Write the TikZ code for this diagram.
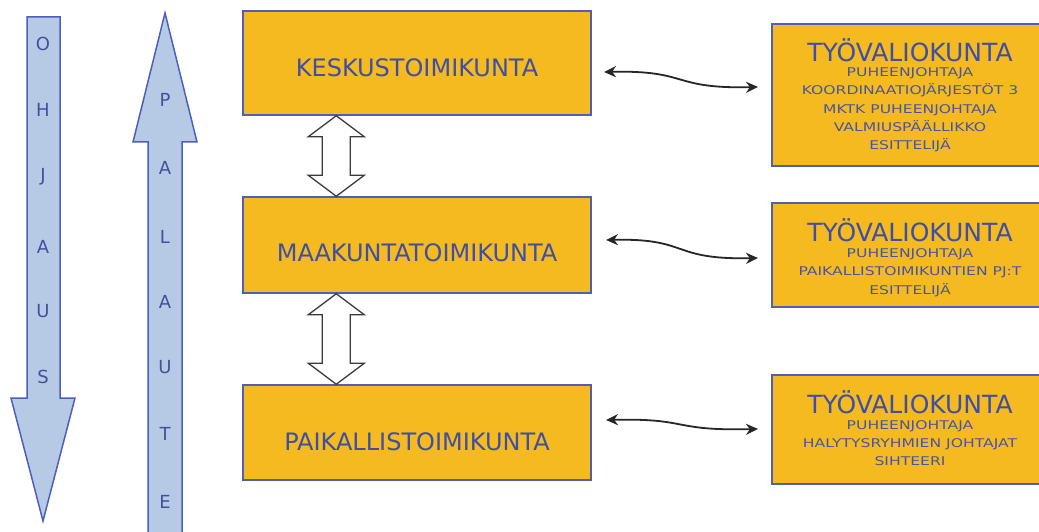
\documentclass[tikz,border=0pt]{standalone}
\usepackage{fontspec}
\setmainfont{DejaVu Sans}
\newfontfamily\widef[FakeStretch=1.3]{DejaVu Sans}
\usetikzlibrary{arrows.meta,calc}
\definecolor{boxfill}{HTML}{F5BA1F}
\definecolor{boxline}{HTML}{4E5FB8}
\definecolor{txtblue}{HTML}{3F4FA5}
\definecolor{arrfill}{HTML}{B6CAE6}
\definecolor{hollowline}{HTML}{3A3A3A}
\tikzset{
  mainbox/.style={draw=boxline, line width=1.5pt, fill=boxfill, minimum width=348pt, inner sep=0pt},
  maintext/.style={text=txtblue, font=\fontsize{24}{28}\selectfont, inner sep=0pt},
  sidebox/.style={draw=boxline, line width=2.6pt, fill=boxfill, minimum width=273pt, inner sep=0pt},
  sidetitle/.style={text=txtblue, font=\fontsize{25}{28}\selectfont, inner sep=0pt},
  sidelines/.style={text=txtblue!85!gray, font=\widef\fontsize{12}{18.3}\selectfont, align=center, inner sep=0pt},
  bigarrow/.style={draw=boxline, line width=1.5pt, fill=arrfill, line join=miter},
  letter/.style={text=boxline!85!black, font=\fontsize{18}{18}\selectfont, inner sep=0pt},
  hollow/.style={draw=hollowline, line width=1.3pt, fill=white, line join=miter},
  wavy/.style={{Stealth[length=12pt,width=11pt]}-{Stealth[length=12pt,width=11pt]}, line width=1.8pt, black!85}
}
\begin{document}
\begin{tikzpicture}[x=1pt,y=-1pt]
\useasboundingbox (0,0) rectangle (1039,532);
\clip (0,0) rectangle (1039,532);
\fill[white] (0,0) rectangle (1039,532);

% left arrows
\draw[bigarrow] (27,17) -- (60,17) -- (60,398) -- (75,398) -- (43,521) -- (11,398) -- (27,398) -- cycle;
\draw[bigarrow] (165,13) -- (197,142) -- (182,142) -- (182,545) -- (148,545) -- (148,142) -- (133,142) -- cycle;
\foreach \l/\y [count=\i] in {O/44,H/110,J/177,A/247,U/311,S/377}
  \node[letter] (oh\i) at (43,\y) {\l};
\foreach \l/\y [count=\i] in {P/100,A/168,L/237,A/302,U/367,T/434,E/502}
  \node[letter] (pa\i) at (165,\y) {\l};

% main boxes
\node[mainbox, minimum height=104pt] (k) at (417,63) {};
\node[mainbox, minimum height=96pt] (m) at (417,245) {};
\node[mainbox, minimum height=95pt] (p) at (417,432.5) {};
\node[maintext] (kt) at (417,68) {KESKUSTOIMIKUNTA};
\node[maintext] (mt) at (417,253) {MAAKUNTATOIMIKUNTA};
\node[maintext] (pt) at (417,442) {PAIKALLISTOIMIKUNTA};

% hollow double arrows
\coordinate (h1a) at ($(k.south west)+(94,0)$);
\coordinate (h1b) at ($(m.north west)+(94,0)$);
\coordinate (h2a) at ($(m.south west)+(94,0)$);
\coordinate (h2b) at ($(p.north west)+(94,0)$);
\foreach \a/\b in {h1a/h1b,h2a/h2b}{
  \draw[hollow] (\a) -- ($(\a)+(28,21)$) -- ($(\a)+(14,21)$) -- ($(\b)+(14,-21)$) -- ($(\b)+(28,-21)$)
    -- (\b) -- ($(\b)+(-28,-21)$) -- ($(\b)+(-14,-21)$) -- ($(\a)+(-14,21)$) -- ($(\a)+(-28,21)$) -- cycle;
}

% side boxes
\node[sidebox, minimum height=142pt] (t1) at (908.5,95) {};
\node[sidebox, minimum height=104pt] (t2) at (908.5,255) {};
\node[sidebox, minimum height=109pt] (t3) at (908.5,429.5) {};

\node[sidetitle] (t1t) at (910,50) {TYÖVALIOKUNTA};
\node[sidelines] (t1l) at (910,110) {PUHEENJOHTAJA\\KOORDINAATIOJÄRJESTÖT 3\\MKTK PUHEENJOHTAJA\\VALMIUSPÄÄLLIKKO\\ESITTELIJÄ};
\node[sidetitle] (t2t) at (910,230) {TYÖVALIOKUNTA};
\node[sidelines] (t2l) at (910,272.5) {PUHEENJOHTAJA\\PAIKALLISTOIMIKUNTIEN PJ:T\\ESITTELIJÄ};
\node[sidetitle] (t3t) at (910,402) {TYÖVALIOKUNTA};
\node[sidelines] (t3l) at (910,443) {PUHEENJOHTAJA\\HALYTYSRYHMIEN JOHTAJAT\\SIHTEERI};

% wavy connectors
\coordinate (w1a) at (604,72);  \coordinate (w1b) at (758,87);
\coordinate (w2a) at (606,240); \coordinate (w2b) at (758,258);
\coordinate (w3a) at (606,420); \coordinate (w3b) at (758,429);
\draw[wavy] (w1a) .. controls (690,70) and (670,89) .. (w1b);
\draw[wavy] (w2a) .. controls (690,238) and (670,260) .. (w2b);
\draw[wavy] (w3a) .. controls (690,418) and (670,431) .. (w3b);
\end{tikzpicture}
\end{document}
